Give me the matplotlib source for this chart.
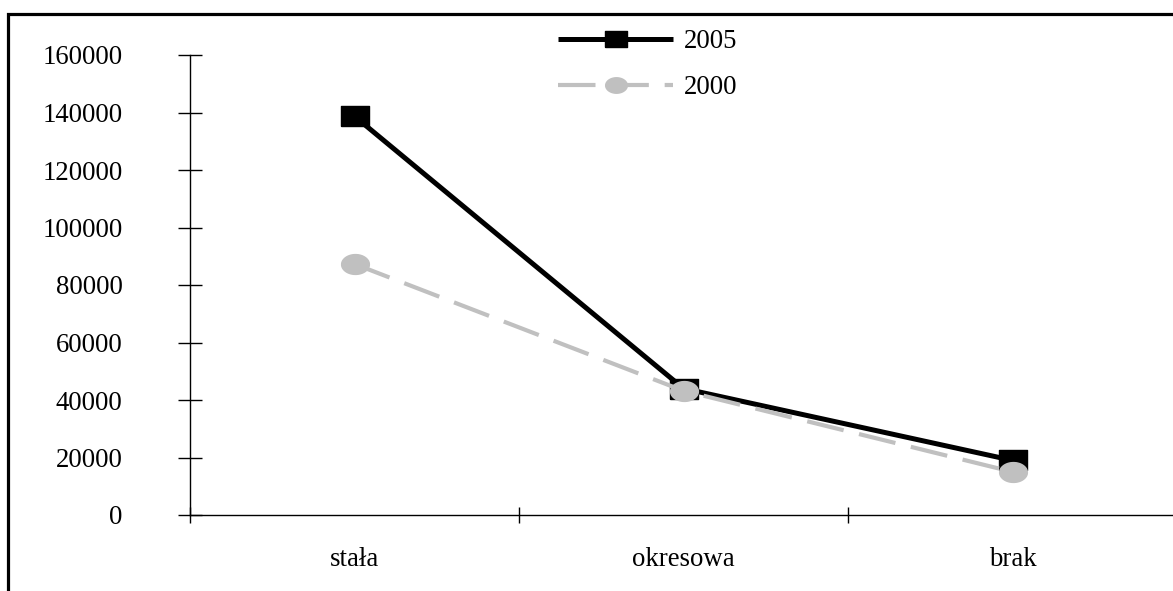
import numpy as np
import matplotlib
matplotlib.use("Agg")
import matplotlib.pyplot as plt
from matplotlib.patches import Rectangle

# data
categories = ["stała", "okresowa", "brak"]
values_2005 = [138700, 44000, 19000]
values_2000 = [87300, 43200, 15000]
y_ticks = [0, 20000, 40000, 60000, 80000, 100000, 120000, 140000, 160000]

plt.rcParams['font.family'] = ['Liberation Serif', 'DejaVu Serif']

W, H = 1173, 591
fig = plt.figure(figsize=(W / 100, H / 100), dpi=100)
ax = fig.add_axes([190 / W, (H - 515) / H, 987 / W, 460 / H])

# rectangular / elliptic markers (wider than tall)
sq = [(-1.4, -1), (1.4, -1), (1.4, 1), (-1.4, 1), (-1.4, -1)]
t = np.linspace(0, 2 * np.pi, 60)
ell = list(zip(1.4 * np.cos(t), np.sin(t)))

x = np.arange(len(categories))
ax.plot(x, values_2005, color='black', lw=3.6, marker=sq, ms=20,
        mfc='black', mec='black', label='2005', zorder=3, solid_capstyle='butt')
ax.plot(x, values_2000, color='#c0c0c0', lw=3.0, marker=ell, ms=20,
        mfc='#c0c0c0', mec='#c0c0c0', dashes=(9, 3.8), label='2000', zorder=4)

ax.set_xlim(-0.5, len(categories) - 0.5)
ax.set_ylim(0, 160000)
ax.set_yticks(y_ticks)
ax.set_yticklabels([str(v) for v in y_ticks])
ax.set_xticks(x)
ax.set_xticklabels(categories)
ax.set_xticks(np.arange(len(categories) + 1) - 0.5, minor=True)

for s in ['top', 'right']:
    ax.spines[s].set_visible(False)
for s in ['left', 'bottom']:
    ax.spines[s].set_linewidth(1.0)

fs = 19.3
ax.tick_params(axis='y', direction='inout', length=17, width=1.0,
               labelsize=fs, pad=40)
ax.tick_params(axis='x', which='major', length=0, labelsize=fs, pad=23)
ax.tick_params(axis='x', which='minor', direction='inout', length=12, width=1.0)

leg = fig.legend(loc='upper left', bbox_to_anchor=(558 / W, 1 - 29 / H),
                 frameon=False, fontsize=fs, handlelength=4.3,
                 handletextpad=0.4, labelspacing=0.8, borderpad=0,
                 borderaxespad=0, markerscale=0.78)

# outer frame (cut off at right and bottom like the reference)
fig.add_artist(Rectangle((8 / W, -0.1), 1.2, 1 - 14 / H + 0.1,
                         transform=fig.transFigure, fill=False,
                         lw=2.3, ec='black'))

fig.savefig('out.png', dpi=100)
